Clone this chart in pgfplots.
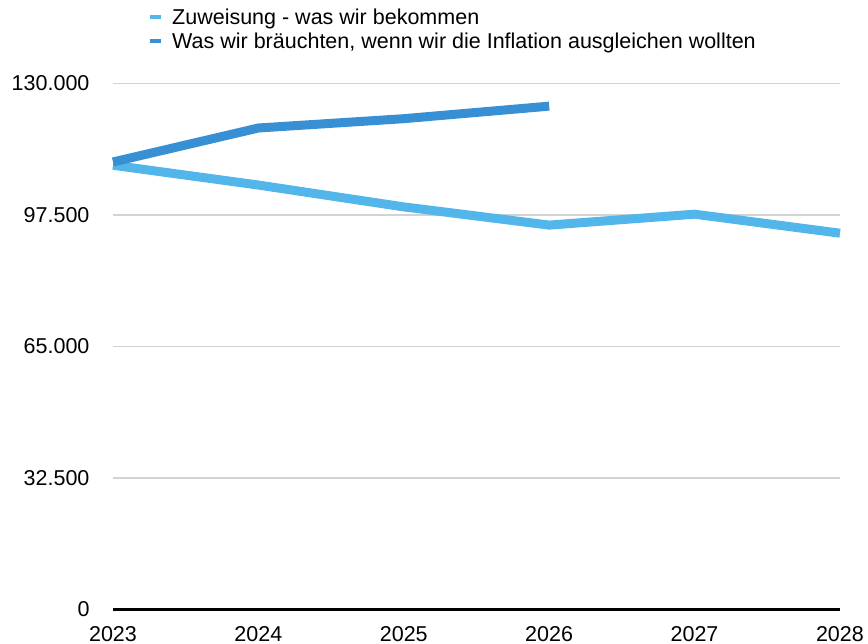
\documentclass[border=0pt]{standalone}
\usepackage{pgfplots}
\pgfplotsset{compat=1.18}
\usepackage{fontspec}
\setmainfont{Liberation Sans}
\definecolor{lightb}{RGB}{82,182,234}
\definecolor{darkb}{RGB}{56,144,212}
\begin{document}
\begin{tikzpicture}
\useasboundingbox (0,0) rectangle (868pt,644pt);
\begin{axis}[
  at={(113pt,34.5pt)}, anchor=south west,
  scale only axis, width=727pt, height=526pt,
  xmin=2023, xmax=2028, ymin=0, ymax=130000,
  xtick={2023,...,2028},
  ytick={0,32500,65000,97500,130000},
  scaled y ticks=false,
  yticklabels={0,32.500,65.000,97.500,130.000},
  xticklabels={2023,2024,2025,2026,2027,2028},
  /pgf/number format/assume math mode=true,
  tick label style={font=\fontsize{21.5}{24}\selectfont},
  yticklabel style={xshift=-20pt},
  xticklabel style={yshift=-13pt},
  axis y line=left,
  y axis line style={draw=none},
  axis x line=bottom,
  x axis line style={line width=2.5pt,-},
  major tick length=0pt,
  ymajorgrids, grid style={gray!35, line width=1.2pt},
  clip=false,
  legend style={at={(32pt,605pt)}, anchor=north west, draw=none, fill=none,
    font=\fontsize{21.5}{24}\selectfont, row sep=3pt, cells={anchor=west}},
  legend cell align=left,
  legend image code/.code={\path[draw=none] (0pt,0pt) -- (20pt,0pt);\draw[#1, line width=4pt] (0pt,0pt) -- (11pt,0pt);},
]
\addplot[lightb, line width=9pt, line join=round] coordinates {
 (2023,109800) (2024,104900) (2025,99500) (2026,95000) (2027,97700) (2028,93000)};
\addlegendentry{Zuweisung - was wir bekommen}
\addplot[darkb, line width=9pt, line join=round] coordinates {
 (2023,110600) (2024,119000) (2025,121300) (2026,124400)};
\addlegendentry{Was wir bräuchten, wenn wir die Inflation ausgleichen wollten}
\end{axis}
\end{tikzpicture}
\end{document}
